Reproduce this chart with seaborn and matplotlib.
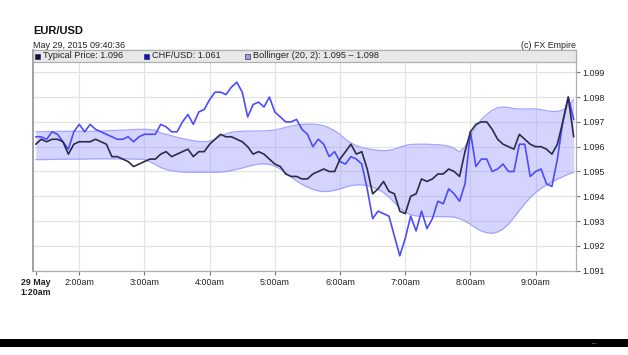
import matplotlib
matplotlib.use("Agg")
import matplotlib.pyplot as plt
from matplotlib.patches import Rectangle
import seaborn as sns
import pandas as pd

# 5-minute bars, 29 May 2015 from 1:20am to 9:35am
hours = [1 + 20 / 60 + 5 * i / 60 for i in range(100)]

typical = [
    1.0961, 1.0963, 1.0962, 1.0963, 1.0963, 1.0962, 1.0957, 1.0961, 1.0962, 1.0962,
    1.0962, 1.0963, 1.0962, 1.0961, 1.0956, 1.0956, 1.0955, 1.0954, 1.0952, 1.0953,
    1.0954, 1.0955, 1.0955, 1.0957, 1.0958, 1.0956, 1.0957, 1.0958, 1.0959, 1.0956,
    1.0958, 1.0958, 1.0961, 1.0963, 1.0965, 1.0964, 1.0964, 1.0963, 1.0962, 1.0960,
    1.0957, 1.0958, 1.0957, 1.0955, 1.0953, 1.0952, 1.0949, 1.0948, 1.0948, 1.0947,
    1.0947, 1.0949, 1.0950, 1.0951, 1.0950, 1.0950, 1.0955, 1.0958, 1.0961, 1.0957,
    1.0958, 1.0951, 1.0941, 1.0943, 1.0946, 1.0942, 1.0941, 1.0934, 1.0933, 1.0940,
    1.0941, 1.0947, 1.0946, 1.0947, 1.0949, 1.0949, 1.0951, 1.0950, 1.0948, 1.0958,
    1.0966, 1.0969, 1.0970, 1.0970, 1.0967, 1.0963, 1.0961, 1.0960, 1.0959, 1.0965,
    1.0963, 1.0961, 1.0960, 1.0960, 1.0959, 1.0957, 1.0961, 1.0970, 1.0980, 1.0964,
]

chf_usd = [
    1.0964, 1.0964, 1.0963, 1.0966, 1.0965, 1.0962, 1.0959, 1.0966, 1.0969, 1.0966,
    1.0969, 1.0967, 1.0966, 1.0965, 1.0964, 1.0963, 1.0963, 1.0964, 1.0962, 1.0964,
    1.0965, 1.0965, 1.0965, 1.0969, 1.0968, 1.0966, 1.0966, 1.0970, 1.0973, 1.0969,
    1.0974, 1.0975, 1.0979, 1.0982, 1.0982, 1.0981, 1.0984, 1.0986, 1.0982, 1.0972,
    1.0977, 1.0978, 1.0976, 1.0980, 1.0974, 1.0972, 1.0970, 1.0970, 1.0971, 1.0967,
    1.0965, 1.0960, 1.0963, 1.0961, 1.0956, 1.0958, 1.0954, 1.0953, 1.0956, 1.0955,
    1.0953, 1.0943, 1.0931, 1.0934, 1.0933, 1.0932, 1.0924, 1.0916, 1.0923, 1.0932,
    1.0926, 1.0934, 1.0927, 1.0931, 1.0938, 1.0937, 1.0943, 1.0941, 1.0938, 1.0945,
    1.0966, 1.0952, 1.0955, 1.0955, 1.0950, 1.0951, 1.0953, 1.0950, 1.0950, 1.0961,
    1.0961, 1.0948, 1.0950, 1.0951, 1.0945, 1.0944, 1.0955, 1.0970, 1.0980, 1.0971,
]

boll_upper = [
    1.09660, 1.09660, 1.09661, 1.09661, 1.09662, 1.09662, 1.09662, 1.09662, 1.09662, 1.09662,
    1.09662, 1.09662, 1.09663, 1.09664, 1.09665, 1.09666, 1.09667, 1.09668, 1.09669, 1.09670,
    1.09670, 1.09669, 1.09667, 1.09655, 1.09650, 1.09644, 1.09638, 1.09633, 1.09628, 1.09624,
    1.09621, 1.09620, 1.09622, 1.09630, 1.09642, 1.09652, 1.09658, 1.09661, 1.09662, 1.09663,
    1.09663, 1.09663, 1.09664, 1.09665, 1.09667, 1.09672, 1.09678, 1.09683, 1.09687, 1.09690,
    1.09691, 1.09691, 1.09689, 1.09684, 1.09676, 1.09664, 1.09650, 1.09630, 1.09615, 1.09604,
    1.09597, 1.09592, 1.09588, 1.09585, 1.09584, 1.09585, 1.09590, 1.09598, 1.09605, 1.09609,
    1.09610, 1.09610, 1.09610, 1.09609, 1.09608, 1.09606, 1.09602, 1.09594, 1.09578, 1.09600,
    1.09640, 1.09680, 1.09710, 1.09730, 1.09747, 1.09757, 1.09760, 1.09758, 1.09754, 1.09752,
    1.09752, 1.09753, 1.09752, 1.09749, 1.09745, 1.09742, 1.09742, 1.09748, 1.09765, 1.09790,
]

boll_lower = [
    1.09548, 1.09548, 1.09548, 1.09549, 1.09549, 1.09550, 1.09550, 1.09550, 1.09550, 1.09550,
    1.09551, 1.09551, 1.09551, 1.09551, 1.09551, 1.09551, 1.09551, 1.09551, 1.09550, 1.09550,
    1.09548, 1.09540, 1.09528, 1.09516, 1.09508, 1.09503, 1.09500, 1.09498, 1.09497, 1.09497,
    1.09497, 1.09497, 1.09497, 1.09497, 1.09498, 1.09500, 1.09504, 1.09509, 1.09514, 1.09520,
    1.09526, 1.09530, 1.09531, 1.09529, 1.09522, 1.09510, 1.09495, 1.09478, 1.09462, 1.09448,
    1.09437, 1.09428, 1.09422, 1.09419, 1.09420, 1.09424, 1.09430, 1.09437, 1.09443, 1.09446,
    1.09446, 1.09443, 1.09437, 1.09428, 1.09415, 1.09397, 1.09375, 1.09353, 1.09336, 1.09326,
    1.09321, 1.09319, 1.09318, 1.09318, 1.09318, 1.09318, 1.09318, 1.09316, 1.09310, 1.09300,
    1.09287, 1.09272, 1.09260, 1.09253, 1.09251, 1.09256, 1.09268, 1.09288, 1.09314, 1.09343,
    1.09370, 1.09395, 1.09415, 1.09432, 1.09446, 1.09458, 1.09469, 1.09479, 1.09489, 1.09497,
]

x_ticks = [1 + 20 / 60, 2, 3, 4, 5, 6, 7, 8, 9]
x_labels = ["29 May\n1:20am", "2:00am", "3:00am", "4:00am", "5:00am",
            "6:00am", "7:00am", "8:00am", "9:00am"]
y_ticks = [1.091, 1.092, 1.093, 1.094, 1.095, 1.096, 1.097, 1.098, 1.099]

legend_labels = ["Typical Price: 1.096", "CHF/USD: 1.061",
                 "Bollinger (20, 2): 1.095 \u2013 1.098"]

df = pd.DataFrame({"hour": hours, "typical": typical, "chf": chf_usd,
                   "upper": boll_upper, "lower": boll_lower})

sns.set_theme(style="white")
plt.rcParams["font.family"] = ["Liberation Sans", "DejaVu Sans"]

fig = plt.figure(figsize=(6.28, 3.55), dpi=100)
ax = fig.add_axes([0.0533, 0.2375, 0.864, 0.6217])

grid_c = "#e3e3e3"
for h in x_ticks[1:]:
    ax.axvline(h, color=grid_c, lw=0.9, zorder=0)
for v in y_ticks:
    ax.axhline(v, color=grid_c, lw=0.9, zorder=0)

# Bollinger band
ax.fill_between(df["hour"], df["lower"], df["upper"], color="#9a9aff",
                alpha=0.42, lw=0, zorder=1)
sns.lineplot(data=df, x="hour", y="upper", color="#a4a4ff", lw=0.9, ax=ax, zorder=2)
sns.lineplot(data=df, x="hour", y="lower", color="#a4a4ff", lw=0.9, ax=ax, zorder=2)

sns.lineplot(data=df, x="hour", y="chf", color="#4c4cff", lw=1.2, ax=ax, zorder=3)
sns.lineplot(data=df, x="hour", y="typical", color="#2c2c48", lw=1.2, ax=ax, zorder=4)

ax.set_xlim(1.298, 9.62)
ax.set_ylim(1.091, 1.0999)
ax.set_xlabel("")
ax.set_ylabel("")

ax.set_xticks(x_ticks)
ax.set_xticklabels(x_labels)
ax.get_xticklabels()[0].set_fontweight("bold")
ax.set_yticks(y_ticks)
ax.set_yticklabels([f"{v:.3f}" for v in y_ticks])
ax.yaxis.tick_right()
ax.tick_params(axis="x", bottom=True, length=3, width=0.8, color="#777777",
               labelsize=6.4, labelcolor="#222222", pad=2)
ax.tick_params(axis="y", right=True, left=False, length=3, width=0.8,
               color="#777777", labelsize=6.4, labelcolor="#222222", pad=1.5)

for side in ["top", "right", "bottom"]:
    ax.spines[side].set_color("#b0b0b0")
    ax.spines[side].set_linewidth(0.9)
ax.spines["left"].set_color("#999999")
ax.spines["left"].set_linewidth(1.3)

# legend band across the top of the chart
band_h = 12 / 220.7
ax.add_patch(Rectangle((0, 1 - band_h), 1, band_h, transform=ax.transAxes,
                       facecolor="#e8e8e8", edgecolor="#b0b0b0", lw=0.9,
                       zorder=10, clip_on=False))
legend_x = [0.006, 0.207, 0.394]
legend_c = ["#10103a", "#1010d0", "#a0a0e8"]
for lx, lc, lt in zip(legend_x, legend_c, legend_labels):
    ax.plot([lx], [1 - band_h / 2], marker="s", ms=3.6, color=lc, mec="#333355",
            mew=0.5, transform=ax.transAxes, clip_on=False, zorder=11)
    ax.text(lx + 0.011, 1 - band_h / 2, lt, transform=ax.transAxes, fontsize=6.6,
            color="#222222", va="center", ha="left", zorder=11)

fig.text(0.0533, 0.912, "EUR/USD", fontsize=8, fontweight="bold", color="#111111",
         va="center", ha="left")
fig.text(0.0533, 0.873, "May 29, 2015 09:40:36", fontsize=6.5, color="#222222",
         va="center", ha="left")
fig.text(0.917, 0.873, "(c) FX Empire", fontsize=6.4, color="#222222",
         va="center", ha="right")

# black strip at the bottom of the screenshot
fig.patches.append(Rectangle((0, 0.0225), 1, 0.0235, transform=fig.transFigure,
                             facecolor="black", edgecolor="none"))
fig.text(0.947, 0.036, "...", fontsize=5, color="#cccccc", va="center", ha="center")

plt.savefig("out.png", dpi=100)
